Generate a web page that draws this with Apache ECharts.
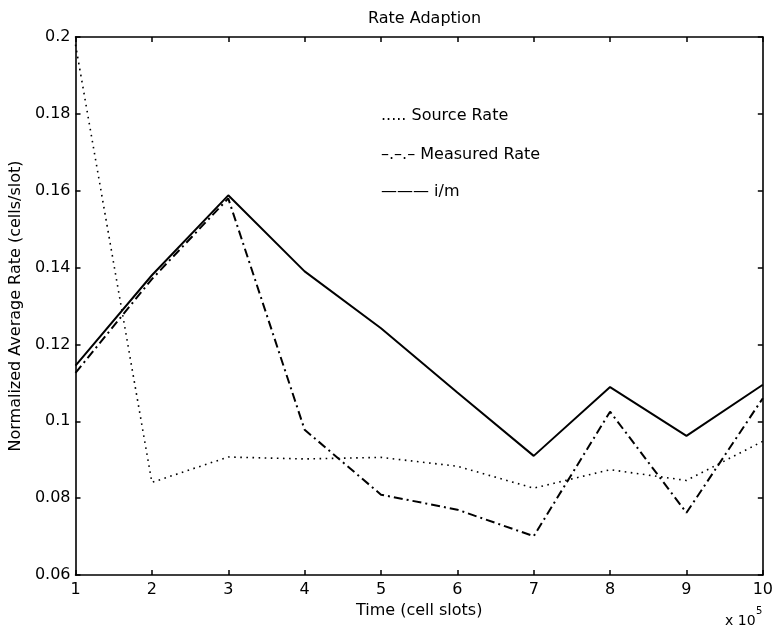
<!DOCTYPE html>
<html>
<head>
<meta charset="utf-8">
<title>Rate Adaption</title>
<script src="https://cdn.jsdelivr.net/npm/echarts@6/dist/echarts.min.js"></script>
<style>
  html, body { margin: 0; padding: 0; background: #fff; }
  #chart { width: 776px; height: 632px; }
</style>
</head>
<body>
<div id="chart"></div>
<script>
  // time in units of 10^5 cell slots
  var timeSlots = [1, 2, 3, 4, 5, 6, 7, 8, 9, 10];
  var sourceRate = [0.198, 0.0841, 0.0907, 0.0902, 0.0906, 0.0883, 0.0826, 0.0874, 0.0846, 0.0948];
  var measuredRate = [0.1126, 0.137, 0.158, 0.0978, 0.0809, 0.077, 0.0701, 0.1025, 0.0762, 0.106];
  var imRate = [0.1145, 0.138, 0.1588, 0.139, 0.1242, 0.1075, 0.091, 0.1089, 0.0962, 0.1095];

  function pairs(xs, ys) {
    return xs.map(function (x, i) { return [x, ys[i]] })
  }

  var font = '"DejaVu Sans", Arial, Helvetica, sans-serif'
  var chart = echarts.init(document.getElementById('chart'))

  var axisCommon = {
    axisLine: { show: true, onZero: false, lineStyle: { color: '#000', width: 1.6 } },
    axisTick: { show: true, inside: true, length: 5, lineStyle: { color: '#000', width: 1.5 } },
    splitLine: { show: false }
  }

  var options = {
    animation: false,
    backgroundColor: '#fff',
    title: {
      text: 'Rate Adaption',
      left: 363,
      top: 6,
      textStyle: { fontFamily: font, fontSize: 16, fontWeight: 'normal', color: '#000' }
    },
    grid: { left: 75, right: 11, top: 37, bottom: 57 },
    xAxis: [
      Object.assign({
        type: 'value', min: 1, max: 10, interval: 1, position: 'bottom',
        name: 'Time (cell slots)', nameLocation: 'middle', nameGap: 25,
        nameTextStyle: { fontFamily: font, fontSize: 16, color: '#000' },
        axisLabel: { fontFamily: font, fontSize: 16, color: '#000', margin: 7 }
      }, axisCommon),
      Object.assign({
        type: 'value', min: 1, max: 10, interval: 1, position: 'top',
        axisLabel: { show: false }
      }, axisCommon)
    ],
    yAxis: [
      Object.assign({
        type: 'value', min: 0.06, max: 0.2, interval: 0.02, position: 'left',
        name: 'Normalized Average Rate (cells/slot)', nameLocation: 'middle', nameGap: 50,
        nameTextStyle: { fontFamily: font, fontSize: 16, color: '#000' },
        axisLabel: { fontFamily: font, fontSize: 16, color: '#000', margin: 5 }
      }, axisCommon),
      Object.assign({
        type: 'value', min: 0.06, max: 0.2, interval: 0.02, position: 'right',
        axisLabel: { show: false }
      }, axisCommon)
    ],
    graphic: [
      { type: 'text', left: 381, top: 108, style: { text: '..... Source Rate', font: '16px ' + font, fill: '#000' } },
      { type: 'text', left: 381, top: 147, style: { text: '–.–.– Measured Rate', font: '16px ' + font, fill: '#000' } },
      { type: 'text', left: 381, top: 184, style: { text: '——— i/m', font: '16px ' + font, fill: '#000' } },
      { type: 'text', left: 725, top: 614, style: { text: 'x 10', font: '14px ' + font, fill: '#000' } },
      { type: 'text', left: 756, top: 606, style: { text: '5', font: '10px ' + font, fill: '#000' } }
    ],
    series: [
      {
        name: 'Source Rate', type: 'line', data: pairs(timeSlots, sourceRate),
        showSymbol: false, lineStyle: { color: '#000', width: 1.6, type: [1.6, 4.5] }
      },
      {
        name: 'Measured Rate', type: 'line', data: pairs(timeSlots, measuredRate),
        showSymbol: false, lineStyle: { color: '#000', width: 2, type: [9, 4, 2, 4] }
      },
      {
        name: 'i/m', type: 'line', data: pairs(timeSlots, imRate),
        showSymbol: false, lineStyle: { color: '#000', width: 2 }
      }
    ]
  }

  chart.setOption(options, true)
</script>
</body>
</html>
